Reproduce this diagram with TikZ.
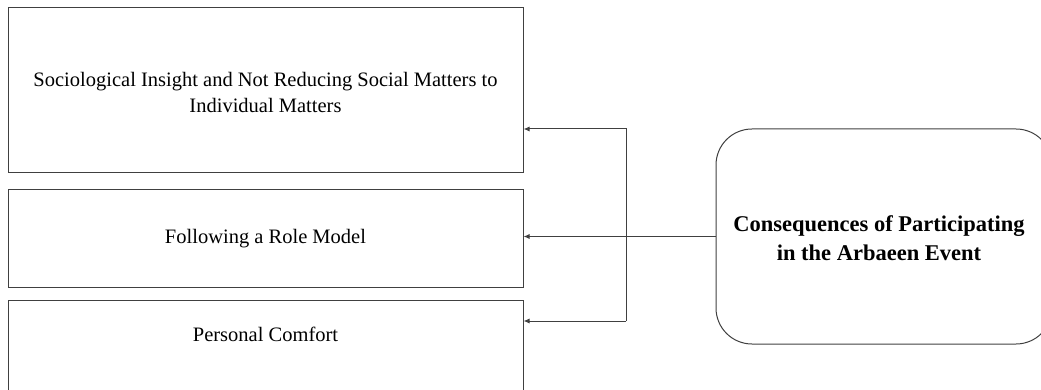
\documentclass[tikz,border=0pt]{standalone}
\usepackage{fontspec}
\setmainfont{Liberation Serif}
\usetikzlibrary{arrows.meta}
\begin{document}
\begin{tikzpicture}[x=1pt,y=1pt,
  line width=1pt,
  ln/.style={draw=black!75},
  txt/.style={font=\fontsize{20.5}{26}\selectfont},
  box/.style={ln, txt, rectangle, minimum width=515pt, inner sep=0pt, align=center},
  conn/.style={ln, -{Latex[length=6pt,width=5pt]}},
  rbox/.style={ln, rounded corners=36pt, minimum width=336pt, minimum height=215pt, inner sep=0pt, align=center, font=\fontsize{22.5}{29}\selectfont\bfseries}]
\useasboundingbox (0,0) rectangle (1041,-390);
\clip (0,0) rectangle (1041,-390);
\node[box, minimum height=165pt] (top) at (265.5,-90.5) {};
\node[txt, align=center, inner sep=0pt] (toptxt) at ([yshift=-2pt]top.center) {Sociological Insight and Not Reducing Social Matters to\\Individual Matters};
\node[box, minimum height=97pt] (mid) at (265.5,-238.5) {Following a Role Model};
\node[box, minimum height=100pt, anchor=north] (bot) at (265.5,-300) {};
\node[txt, inner sep=0pt] (bottxt) at ([yshift=-34pt]bot.north) {Personal Comfort};
\node[rbox] (src) at (884,-236.5) {};
\node[align=center, inner sep=0pt, font=\fontsize{22.5}{29}\selectfont\bfseries] (srctxt) at ([xshift=-5pt,yshift=-2pt]src.center) {Consequences of Participating\\in the Arbaeen Event};
\coordinate (jt) at (626,-129);
\coordinate (jb) at (626,-321);
\draw[conn] (src.west) -- (mid.east |- src.west);
\draw[conn] (jb) -- (jt) -- (top.east |- jt);
\draw[conn] (jb) -- (bot.east |- jb);
\end{tikzpicture}
\end{document}
